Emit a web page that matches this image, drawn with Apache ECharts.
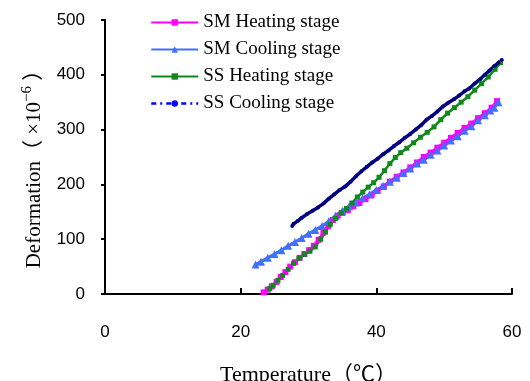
<!DOCTYPE html>
<html><head><meta charset="utf-8">
<script src="https://cdn.jsdelivr.net/npm/echarts@6/dist/echarts.min.js"></script>
<style>html,body{margin:0;padding:0;background:#fff}#c{width:530px;height:381px}</style>
</head><body><div id="c"></div>
<script>
// Axis ticks
const xTicks = [0, 20, 40, 60];
const yTicks = [0, 100, 200, 300, 400, 500];

// Series names
const seriesNames = ['SM Heating stage', 'SM Cooling stage', 'SS Heating stage', 'SS Cooling stage'];

// SM Heating stage
const smHeatT = [23.4,24.0,24.6,25.3,25.9,26.6,27.3,28.0,28.7,29.4,30.1,30.8,31.5,32.2,32.9,33.6,34.3,35.0,35.8,36.6,37.5,38.4,39.3,40.2,41.1,42.0,43.0,44.0,45.0,46.0,47.0,48.0,49.0,50.0,51.0,52.0,53.0,54.0,55.0,56.0,57.0,57.8];
const smHeatD = [3,8,14,22,31,40,50,58,66,73,80,88,99,112,124,135,143,148,153,160,166,173,180,188,196,205,214,222,231,240,250,258,267,276,285,294,303,311,321,330,340,352];

// SM Cooling stage
const smCoolT = [58.0,57.4,56.8,56.0,55.0,54.0,53.0,52.0,51.0,50.0,49.0,48.0,47.0,46.0,45.0,44.0,43.0,42.0,41.0,40.0,39.0,38.0,37.0,36.0,35.0,34.0,33.0,32.0,31.0,30.0,29.0,28.0,27.0,26.0,25.0,24.0,23.0,22.2];
const smCoolD = [350,340,335,326,317,306,298,288,280,271,262,254,245,238,229,221,212,205,197,190,182,175,167,160,152,143,133,124,117,110,102,95,88,80,73,66,59,54];

// SS Heating stage
const ssHeatT = [24.3,24.8,25.5,26.2,27.0,27.8,28.6,29.4,30.2,31.0,31.8,32.5,33.2,34.0,34.8,35.6,36.4,37.2,38.0,38.8,39.6,40.4,41.2,42.0,42.8,43.6,44.5,45.5,46.5,47.5,48.5,49.5,50.5,51.5,52.5,53.5,54.5,55.5,56.5,57.5,58.3];
const ssHeatD = [10,16,25,34,45,56,65,72,78,86,100,113,127,138,148,156,166,177,186,195,203,213,225,238,249,258,266,276,286,295,305,318,330,340,350,360,372,384,396,410,422];

// SS Cooling stage
const ssCoolT = [58.5,58.0,57.4,56.7,56.0,55.3,54.5,53.7,53.0,52.2,51.5,50.6,49.8,49.0,48.2,47.4,46.6,45.8,45.0,44.2,43.4,42.6,41.8,41.0,40.2,39.4,38.6,37.8,37.0,36.2,35.4,34.6,33.8,33.0,32.2,31.4,30.6,29.8,29.0,28.4,27.8,27.6];
const ssCoolD = [427,422,416,408,400,392,384,375,370,362,356,349,342,333,325,318,308,300,292,285,277,270,262,255,247,240,232,224,215,205,196,190,182,174,165,158,152,146,139,133,128,124];

const pairs = (xs, ys) => xs.map((x, i) => [x, ys[i]]);

const serif = "'Liberation Serif', 'Noto Sans CJK SC', serif";
const chart = echarts.init(document.getElementById('c'), null, {renderer: 'canvas'});
chart.setOption({
  animation: false,
  backgroundColor: '#fff',
  grid: {left: 105, right: 18, top: 20, bottom: 87, containLabel: false, outerBoundsMode: 'none'},
  legend: {
    orient: 'vertical', left: 145, top: 8, itemWidth: 47, itemHeight: 8, itemGap: 8,
    textStyle: {fontFamily: serif, fontSize: 19, color: '#000'},
    data: [
      {name: seriesNames[0]},
      {name: seriesNames[1]},
      {name: seriesNames[2]},
      {name: seriesNames[3], lineStyle: {color: '#0000ff', type: [5, 4, 2, 4], width: 2.5}, itemStyle: {color: '#0000ff'}}
    ]
  },
  xAxis: {
    type: 'value', min: xTicks[0], max: xTicks[xTicks.length - 1], interval: xTicks[1] - xTicks[0],
    name: 'Temperature（℃）', nameLocation: 'middle', nameGap: 70,
    nameTextStyle: {fontFamily: serif, fontSize: 22, color: '#000'},
    axisLine: {lineStyle: {color: '#000', width: 2}},
    axisTick: {inside: true, length: 6, lineStyle: {color: '#000', width: 2}},
    axisLabel: {margin: 30, fontFamily: "'Liberation Sans', sans-serif", fontSize: 17, color: '#000'},
    splitLine: {show: false}
  },
  yAxis: {
    type: 'value', min: yTicks[0], max: yTicks[yTicks.length - 1], interval: yTicks[1] - yTicks[0],
    name: '{a|Deformation}{b|（ ×10}{c|−6}{b| ）}', nameLocation: 'middle', nameRotate: 90, nameGap: 56,
    nameTextStyle: {fontFamily: serif, fontSize: 21, color: '#000', padding: [0, 14, 0, 0],
      rich: {
        a: {fontFamily: serif, fontSize: 21, color: '#000'},
        b: {fontFamily: serif, fontSize: 21, color: '#000'},
        c: {fontFamily: serif, fontSize: 15, color: '#000', padding: [0, 0, 14, 0]}
      }},
    axisLine: {show: true, lineStyle: {color: '#000', width: 2}},
    axisTick: {show: true, inside: false, length: 4, lineStyle: {color: '#000', width: 2}},
    axisLabel: {margin: 20, fontFamily: "'Liberation Sans', sans-serif", fontSize: 17, color: '#000'},
    splitLine: {show: false}
  },
  series: [
    {name: seriesNames[0], type: 'line', data: pairs(smHeatT, smHeatD), showAllSymbol: true,
      symbol: 'rect', symbolSize: 6, lineStyle: {color: '#ff00ff', width: 3},
      itemStyle: {color: '#ff00ff'}},
    {name: seriesNames[1], type: 'line', data: pairs(smCoolT, smCoolD), showAllSymbol: true,
      symbol: 'triangle', symbolSize: 8, lineStyle: {color: '#4070ff', width: 3},
      itemStyle: {color: '#4070ff'}},
    {name: seriesNames[2], type: 'line', data: pairs(ssHeatT, ssHeatD), showAllSymbol: true,
      symbol: 'rect', symbolSize: 5, lineStyle: {color: '#11881a', width: 2.5},
      itemStyle: {color: '#11881a'}},
    {name: seriesNames[3], type: 'line', data: pairs(ssCoolT, ssCoolD), showAllSymbol: true,
      symbol: 'circle', symbolSize: 4, lineStyle: {color: '#000080', width: 3.5},
      itemStyle: {color: '#000080'}}
  ]
});
</script>
</body></html>
